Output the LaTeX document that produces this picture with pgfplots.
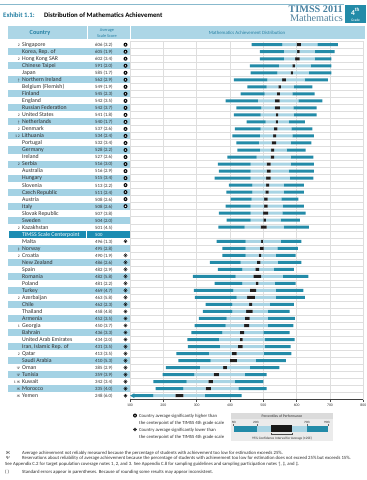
\documentclass[border=0pt]{standalone}
\usepackage{pgfplots}
\pgfplotsset{compat=1.18}
\usepackage{pgfplotstable}
\usepackage{fontspec}
\setmainfont{Carlito}
\newfontfamily\serifb{Liberation Serif}

\definecolor{tealbar}{RGB}{35,139,168}
\definecolor{lightbar}{RGB}{168,212,228}
\definecolor{rowblue}{RGB}{164,210,228}
\definecolor{headblue}{RGB}{172,214,230}
\definecolor{centerteal}{RGB}{28,140,178}
\definecolor{tealtext}{RGB}{38,128,163}
\definecolor{gridgray}{RGB}{222,222,222}
\definecolor{timsscol}{RGB}{70,128,160}
\definecolor{txt}{RGB}{45,45,45}

\pgfplotstableread{
row p5 p25 p75 p95 mean ci
1 465 557 662 724 606 6.4
2 490 562 654 714 605 3.8
3 490 562 654 704 602 6.8
4 460 547 642 704 591 4.0
5 462 542 637 704 585 3.4
6 412 512 624 694 562 5.8
7 452 510 592 647 549 3.8
8 432 504 587 654 545 4.6
9 387 484 605 677 542 7.0
10 419 494 590 660 542 7.4
11 412 492 592 660 541 3.6
12 450 507 577 625 540 3.4
13 415 492 584 647 537 5.2
14 407 490 587 652 534 4.8
15 419 487 582 644 532 6.8
16 422 490 570 627 528 4.4
17 392 480 582 650 527 5.2
18 364 462 582 652 516 6.0
19 367 462 577 652 516 5.8
20 354 462 580 650 515 6.8
21 397 467 562 622 513 4.4
22 389 467 562 622 511 4.8
23 402 465 554 605 508 5.2
24 387 462 559 622 508 5.2
25 367 462 557 627 507 7.6
26 390 462 552 610 504 4.0
27 365 444 562 637 501 9.0
29 360 447 552 614 496 2.6
30 377 447 542 604 495 5.6
31 377 447 537 597 490 3.8
32 340 432 544 614 486 5.2
33 364 437 532 592 482 5.8
34 289 417 559 635 482 11.6
35 354 437 534 597 481 4.4
36 292 410 537 620 469 9.4
37 295 420 537 625 463 11.6
38 327 407 520 592 462 4.6
39 319 407 514 579 458 9.6
40 307 390 514 595 452 7.0
41 294 387 514 590 450 7.4
42 284 377 500 579 436 6.6
43 272 367 505 594 434 4.0
44 274 370 504 582 431 7.0
45 239 337 502 584 413 7.0
46 245 342 478 568 410 10.6
47 208 310 460 548 385 5.8
48 198 293 445 510 359 7.8
49 170 270 415 500 342 6.8
50 177 260 425 510 335 8.0
51 112 170 325 435 248 12.0
}\dist

\newcommand\crow[4]{%
  \pgfmathsetmacro\yy{44.7+(#1-1)*7.02+1.9}%
  \node[anchor=base east, inner sep=0, text=txt, font=\fontsize{3.8}{4}\selectfont] at (20,\yy) {#2};
  \node[anchor=base west, inner sep=0, text=txt, font=\fontsize{5.8}{6}\selectfont] at (22,\yy) {#3};
  \node[anchor=base west, inner sep=0, text=txt, font=\fontsize{4.8}{5}\selectfont] at (95,\yy) {#4};
}
\newcommand\upsym[2]{%
  \pgfmathsetmacro\sx{#1}\pgfmathsetmacro\sy{#2}%
  \fill[black] (\sx,\sy) circle (2pt);
  \fill[white] ({\sx},{\sy-0.9}) -- ({\sx+0.8},{\sy+0.6}) -- ({\sx-0.8},{\sy+0.6}) -- cycle;
}
\newcommand\downsym[2]{%
  \pgfmathsetmacro\sx{#1}\pgfmathsetmacro\sy{#2}%
  \draw[black, line width=0.35pt] (\sx,\sy) circle (1.7pt);
  \fill[black] ({\sx},{\sy+1.1}) -- ({\sx+1.1},{\sy-0.7}) -- ({\sx-1.1},{\sy-0.7}) -- cycle;
}

\begin{document}
\begin{tikzpicture}[x=1pt, y=-1pt]
\useasboundingbox (0,0) rectangle (367,480);
% top rule and title
\draw[tealtext!55, line width=0.6pt] (0,4) -- (344,4);
\node[anchor=base west, inner sep=0, text=tealtext, font=\bfseries\fontsize{6.8}{7}\selectfont] at (3,17.5) {Exhibit 1.1:};
\node[anchor=base west, inner sep=0, text=black, font=\bfseries\fontsize{6.8}{7}\selectfont] at (44,17.5) {Distribution of Mathematics Achievement};
\node[anchor=base east, inner sep=0, text=timsscol, font=\serifb\bfseries\fontsize{10.2}{11}\selectfont] at (343,12.5) {TIMSS 2011};
\node[anchor=base east, inner sep=0, text=timsscol!85!gray, font=\serifb\fontsize{10.2}{11}\selectfont] at (343,21.5) {Mathematics};
\fill[tealbar] (345,5) rectangle (366,23);
\node[anchor=base, inner sep=0, text=white, font=\bfseries\fontsize{7.5}{8}\selectfont] at (355.5,15) {4\textsuperscript{th}};
\node[anchor=base, inner sep=0, text=white, font=\fontsize{3.6}{4}\selectfont] at (355.5,21) {Grade};
% header band
\fill[headblue] (8,26) rectangle (365,39);
\draw[white, line width=0.8pt] (87,26) -- (87,39);
\draw[white, line width=0.8pt] (130,26) -- (130,39);
\node[anchor=base, inner sep=0, text=tealtext, font=\bfseries\fontsize{6.2}{7}\selectfont] at (40,34.5) {Country};
\node[anchor=base, inner sep=0, text=tealtext, font=\fontsize{4.3}{5}\selectfont] at (107,31) {Average};
\node[anchor=base, inner sep=0, text=tealtext, font=\fontsize{4.3}{5}\selectfont] at (107,37) {Scale Score};
\node[anchor=base, inner sep=0, text=tealtext, font=\fontsize{4.8}{5}\selectfont] at (247,34) {Mathematics Achievement Distribution};
% row shading
\foreach \i in {2,4,...,26} {\fill[rowblue] (8,{44.7+(\i-1)*7.02-3.51}) rectangle (130,{44.7+(\i-1)*7.02+3.51});}
\foreach \i in {30,32,...,50} {\fill[rowblue] (8,{44.7+(\i-1)*7.02-3.51}) rectangle (130,{44.7+(\i-1)*7.02+3.51});}
\fill[centerteal] (9,{44.7+27*7.02-3.51}) rectangle (130,{44.7+27*7.02+3.51});
\draw[white, line width=0.5pt] (86,{44.7+27*7.02-3.51}) -- (86,{44.7+27*7.02+3.51});
\node[anchor=base west, inner sep=0, text=white, font=\fontsize{5.8}{6}\selectfont] at (22,{44.7+27*7.02+1.9}) {TIMSS Scale Centerpoint};
\node[anchor=base west, inner sep=0, text=white, font=\fontsize{4.8}{5}\selectfont] at (95,{44.7+27*7.02+1.9}) {500};

\begin{axis}[
  at={(130pt,-399.2pt)}, anchor=south west,
  scale only axis, width=233.3pt, height=358pt,
  xmin=100, xmax=800, ymin=-51.5, ymax=-0.5,
  clip=false,
  xbar stacked, bar width=3pt,
  axis line style={draw=gridgray, line width=0.4pt},
  xtick={100,200,...,800},
  ytick={-50.5,-49.5,...,-1.5}, yticklabels={},
  xmajorgrids, ymajorgrids,
  grid style={draw=gridgray, line width=0.4pt},
  major y tick style={draw=none},
  xtick pos=left, tick align=outside,
  major x tick style={draw=black!70, line width=0.4pt},
  major tick length=2.5pt,
  /pgf/number format/assume math mode=true,
  /pgf/number format/1000 sep={},
  xticklabel style={font=\fontsize{3.8}{4}\selectfont, text=txt, yshift=1pt},
]
\addplot[draw=none, fill=none, forget plot] table[x=p5, y expr={-\thisrow{row}}] {\dist};
\addplot[draw=none, fill=tealbar, forget plot] table[x expr={\thisrow{p25}-\thisrow{p5}}, y expr={-\thisrow{row}}] {\dist};
\addplot[draw=none, fill=lightbar, forget plot] table[x expr={\thisrow{mean}-\thisrow{ci}-\thisrow{p25}}, y expr={-\thisrow{row}}] {\dist};
\addplot[draw=none, fill=black!88, forget plot] table[x expr={2*\thisrow{ci}}, y expr={-\thisrow{row}}] {\dist};
\addplot[draw=none, fill=lightbar, forget plot] table[x expr={\thisrow{p75}-\thisrow{mean}-\thisrow{ci}}, y expr={-\thisrow{row}}] {\dist};
\addplot[draw=none, fill=tealbar, forget plot] table[x expr={\thisrow{p95}-\thisrow{p75}}, y expr={-\thisrow{row}}] {\dist};
\fill[tealbar] (axis cs:100,-51) -- (axis cs:113,-50.66) -- (axis cs:113,-51.34) -- cycle;
\draw[black!75, line width=0.5pt] (axis cs:100,-51.5) -- (axis cs:800,-51.5);
\end{axis}

% table text
\crow{1}{2}{Singapore}{606 (3.2)}
\crow{2}{}{Korea, Rep. of}{605 (1.9)}
\crow{3}{2}{Hong Kong SAR}{602 (3.4)}
\crow{4}{}{Chinese Taipei}{591 (2.0)}
\crow{5}{}{Japan}{585 (1.7)}
\crow{6}{†}{Northern Ireland}{562 (2.9)}
\crow{7}{}{Belgium (Flemish)}{549 (1.9)}
\crow{8}{}{Finland}{545 (2.3)}
\crow{9}{}{England}{542 (3.5)}
\crow{10}{}{Russian Federation}{542 (3.7)}
\crow{11}{2}{United States}{541 (1.8)}
\crow{12}{†}{Netherlands}{540 (1.7)}
\crow{13}{2}{Denmark}{537 (2.6)}
\crow{14}{1 2}{Lithuania}{534 (2.4)}
\crow{15}{}{Portugal}{532 (3.4)}
\crow{16}{}{Germany}{528 (2.2)}
\crow{17}{}{Ireland}{527 (2.6)}
\crow{18}{2}{Serbia}{516 (3.0)}
\crow{19}{}{Australia}{516 (2.9)}
\crow{20}{}{Hungary}{515 (3.4)}
\crow{21}{}{Slovenia}{513 (2.2)}
\crow{22}{}{Czech Republic}{511 (2.4)}
\crow{23}{}{Austria}{508 (2.6)}
\crow{24}{}{Italy}{508 (2.6)}
\crow{25}{}{Slovak Republic}{507 (3.8)}
\crow{26}{}{Sweden}{504 (2.0)}
\crow{27}{2}{Kazakhstan}{501 (4.5)}
\crow{29}{}{Malta}{496 (1.3)}
\crow{30}{‡}{Norway}{495 (2.8)}
\crow{31}{2}{Croatia}{490 (1.9)}
\crow{32}{}{New Zealand}{486 (2.6)}
\crow{33}{}{Spain}{482 (2.9)}
\crow{34}{}{Romania}{482 (5.8)}
\crow{35}{}{Poland}{481 (2.2)}
\crow{36}{}{Turkey}{469 (4.7)}
\crow{37}{2}{Azerbaijan}{463 (5.8)}
\crow{38}{}{Chile}{462 (2.3)}
\crow{39}{}{Thailand}{458 (4.8)}
\crow{40}{}{Armenia}{452 (3.5)}
\crow{41}{1}{Georgia}{450 (3.7)}
\crow{42}{}{Bahrain}{436 (3.3)}
\crow{43}{}{United Arab Emirates}{434 (2.0)}
\crow{44}{}{Iran, Islamic Rep. of}{431 (3.5)}
\crow{45}{2}{Qatar}{413 (3.5)}
\crow{46}{}{Saudi Arabia}{410 (5.3)}
\crow{47}{Ψ}{Oman}{385 (2.9)}
\crow{48}{Ψ}{Tunisia}{359 (3.9)}
\crow{49}{1 Ж}{Kuwait}{342 (3.4)}
\crow{50}{Ж}{Morocco}{335 (4.0)}
\crow{51}{Ж}{Yemen}{248 (6.0)}
% significance symbols
\foreach \i in {1,...,24} {\upsym{125.5}{44.7+(\i-1)*7.02}}
\downsym{125.5}{44.7+28*7.02}
\foreach \i in {31,...,51} {\downsym{125.5}{44.7+(\i-1)*7.02}}

% legend: symbols
\upsym{135}{415.5}
\downsym{135}{429.5}
\begin{scope}[every node/.style={anchor=base west, inner sep=0, text=txt, font=\fontsize{4.7}{5}\selectfont}]
\node at (139,417.2) {Country average significantly higher than};
\node at (139,424) {the centerpoint of the TIMSS 4th grade scale};
\node at (139,431.2) {Country average significantly lower than};
\node at (139,438) {the centerpoint of the TIMSS 4th grade scale};
\end{scope}
% legend: percentiles box
\fill[gray!16] (231,413) rectangle (333,441);
\fill[gray!28] (231,413) rectangle (333,419);
\node[anchor=base, inner sep=0, text=txt, font=\fontsize{3.7}{4}\selectfont] at (282,417.6) {Percentiles of Performance};
\foreach \xx/\lab in {234/5th, 256/25th, 307/75th, 327/95th} {
  \node[anchor=base, inner sep=0, text=txt, font=\fontsize{3.2}{4}\selectfont] at (\xx,423.2) {\lab};
}
\foreach \xx in {233.5,257,307,328} {\draw[black!60, line width=0.3pt] (\xx,423.8) -- (\xx,426);}
\fill[tealbar] (233.5,426) rectangle (257,431.5);
\fill[lightbar] (257,426) rectangle (307,431.5);
\fill[tealbar] (307,426) rectangle (328,431.5);
\fill[black!90] (271,425.2) rectangle (292,432.3);
\draw[black!70, line width=0.35pt] (271,432.8) -- (271,433.8) -- (292,433.8) -- (292,432.8);
\draw[black!70, line width=0.35pt] (281.5,433.8) -- (281.5,435);
\node[anchor=base, inner sep=0, text=txt, font=\fontsize{3.4}{4}\selectfont] at (282,439.2) {95\% Confidence Interval for Average (±2SE)};

% footnotes
\begin{scope}[every node/.style={anchor=base west, inner sep=0, text=txt, font=\fontsize{4.75}{5}\selectfont}]
\node at (6,454) {Ж};
\node at (22,454) {Average achievement not reliably measured because the percentage of students with achievement too low for estimation exceeds 25\%.};
\node at (6,459.8) {Ψ};
\node at (22,459.8) {Reservations about reliability of average achievement because the percentage of students with achievement too low for estimation does not exceed 25\% but exceeds 15\%.};
\node at (5,465.8) {See Appendix C.2 for target population coverage notes 1, 2, and 3. See Appendix C.8 for sampling guidelines and sampling participation notes †, ‡, and ‡.};
\node at (5,473) {( )};
\node at (22,473) {Standard errors appear in parentheses. Because of rounding some results may appear inconsistent.};
\end{scope}
\end{tikzpicture}
\end{document}
